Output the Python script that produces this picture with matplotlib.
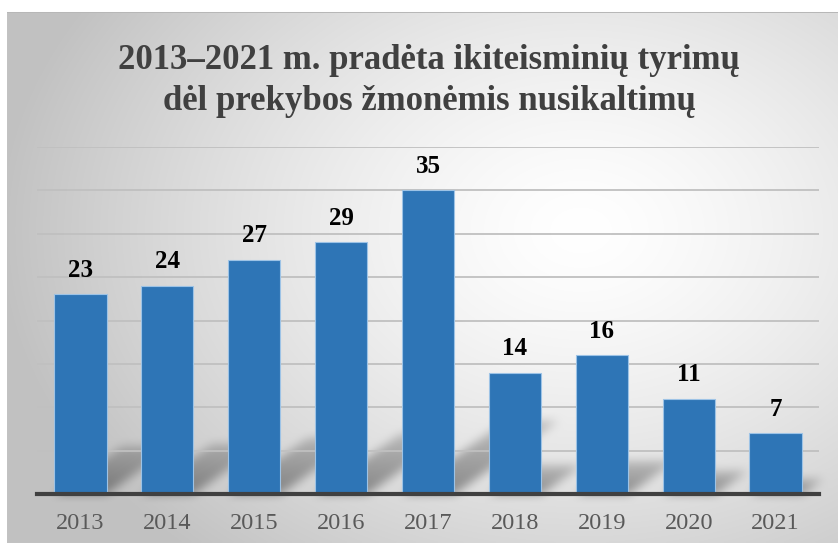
import numpy as np
import matplotlib
matplotlib.use("Agg")
import matplotlib.pyplot as plt
from matplotlib.path import Path

years = ["2013", "2014", "2015", "2016", "2017", "2018", "2019", "2020", "2021"]
cases = [23, 24, 27, 29, 35, 14, 16, 11, 7]
title = "2013–2021 m. pradėta ikiteisminių tyrimų\ndėl prekybos žmonėmis nusikaltimų"

W, H = 838, 545
plt.rcParams["font.family"] = ["Liberation Serif", "DejaVu Serif"]

fig = plt.figure(figsize=(W / 100, H / 100), dpi=100)
fig.patch.set_facecolor("white")

# main axes placed in pixel terms of the reference
ax = fig.add_axes([37 / W, 1 - 494 / H, 782 / W, (494 - 147) / H])
ax.set_xlim(-0.5, len(years) - 0.5)
ax.set_ylim(0, 40)

# background: soft radial gradient with bar floor shadows
yy, xx = np.mgrid[0:H, 0:W]
r = np.sqrt(((xx - 580) / 580.0) ** 2 + ((yy - 230) / 430.0) ** 2)
bg = 1 - 0.24 * np.clip(r, 0, 1) ** 1.4

shadow = np.zeros((H, W))
pts = np.column_stack([xx.ravel() + 0.5, yy.ravel() + 0.5])
for i, v in enumerate(cases):
    (x0, y0), (x1, y1) = ax.transData.transform([(i - 0.3, 0), (i + 0.3, v)])
    y0, y1 = H - y0, H - y1
    h = y0 - y1
    up, right = 0.24 * h, 0.34 * h
    poly = Path([(x0, y0), (x1, y0), (x1 + right, y0 - up), (x0 + right, y0 - up)])
    inside = poly.contains_points(pts).reshape(H, W)
    frac = np.clip((y0 - yy) / max(up, 1), 0, 1)
    shadow = np.maximum(shadow, inside * (1 - 0.5 * frac))

def box_blur(a, k):
    for axis in (0, 1):
        c = np.cumsum(np.pad(a, [(k, k) if j == axis else (0, 0) for j in range(2)], mode="edge"), axis=axis)
        c = np.insert(c, 0, 0, axis=axis)
        n = a.shape[axis]
        a = (np.take(c, np.arange(2 * k + 1, n + 2 * k + 1), axis=axis)
             - np.take(c, np.arange(0, n), axis=axis)) / (2 * k + 1)
    return a

shadow = box_blur(box_blur(shadow, 5), 5)
bg = bg * (1 - 0.38 * shadow)
img = np.dstack([bg, bg, bg])
img[:12, :, :] = 1.0
img[:, :7, :] = 1.0
img[543:, :, :] = 1.0
img[12, 7:, :] = 0.72

bgax = fig.add_axes([0, 0, 1, 1], zorder=-1)
bgax.imshow(img, extent=(0, W, H, 0), interpolation="bilinear", aspect="auto")
bgax.axis("off")

ax.set_facecolor("none")
ax.set_yticks(np.arange(5, 41, 5))
ax.yaxis.grid(True, color="#c0c0c0", linewidth=1.3)
ax.set_axisbelow(True)
ax.tick_params(axis="y", left=False, labelleft=False)
ax.tick_params(axis="x", bottom=False, pad=10, labelsize=17.5, labelcolor="#595959")
for s in ["top", "right", "left"]:
    ax.spines[s].set_visible(False)
ax.spines["bottom"].set_color("#404040")
ax.spines["bottom"].set_linewidth(3)
ax.spines["bottom"].set_zorder(5)

bars = ax.bar(range(len(years)), cases, width=0.6, color="#2E75B6",
              edgecolor="#9dc3e6", linewidth=0.8, zorder=3)
ax.set_xticks(range(len(years)))
ax.set_xticklabels(years)

for b, v in zip(bars, cases):
    ax.annotate(str(v), (b.get_x() + b.get_width() / 2, v), xytext=(0, 9),
                textcoords="offset points", ha="center", va="bottom",
                fontsize=18, fontweight="bold", color="black", zorder=4)

fig.text(429 / W, 1 - 81 / H, title, ha="center", va="center", fontsize=25,
         fontweight="bold", color="#404040", linespacing=1.3)

fig.savefig("out.png", dpi=100, facecolor="white")
